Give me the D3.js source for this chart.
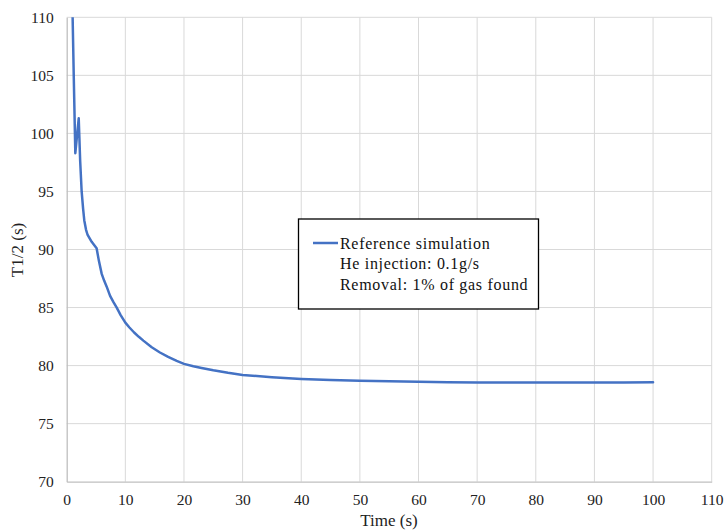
<!DOCTYPE html>
<html>
<head>
<meta charset="utf-8">
<script src="https://cdn.jsdelivr.net/npm/d3@7"></script>
<style>
  html, body { margin: 0; padding: 0; background: #fff; }
  svg { display: block; font-family: "Liberation Serif", "DejaVu Serif", serif; }
</style>
</head>
<body>
<svg id="chart" width="724" height="531"></svg>
<script>
// Data
const timeValues = [1.0, 1.2, 1.47, 2.05, 2.3, 2.55, 2.8, 3.0, 3.3, 3.57, 4.26, 5.1, 5.5, 5.97, 6.4, 6.82, 7.4, 8.0, 8.53, 9.2, 10, 10.7, 11.5, 12.3, 13.07, 14.5, 15.9, 17.3, 18.76, 20, 21.6, 23, 25, 27.5, 30, 35, 40, 45, 50, 55, 60, 65, 70, 75, 80, 85, 90, 95, 100];
const halfTimeValues = [110.3, 105, 98.3, 101.3, 97.6, 95.0, 93.5, 92.5, 91.7, 91.25, 90.66, 90.1, 89.0, 87.9, 87.3, 86.8, 86.0, 85.45, 85.0, 84.35, 83.7, 83.28, 82.85, 82.48, 82.15, 81.58, 81.13, 80.75, 80.4, 80.15, 79.95, 79.8, 79.6, 79.38, 79.2, 79.0, 78.85, 78.75, 78.7, 78.65, 78.6, 78.57, 78.55, 78.55, 78.55, 78.55, 78.55, 78.55, 78.56];
const xTicks = [0, 10, 20, 30, 40, 50, 60, 70, 80, 90, 100, 110];
const yTicks = [70, 75, 80, 85, 90, 95, 100, 105, 110];
const legendLines = ["Reference simulation", "He injection: 0.1g/s", "Removal: 1% of gas found"];
const xTitle = "Time (s)";
const yTitle = "T1/2 (s)";

const svg = d3.select("#chart");
const mLeft = 66.7, mRight = 711.7, mTop = 17.3, mBottom = 481.7;

const x = d3.scaleLinear().domain([0, 110]).range([mLeft, mRight]);
const y = d3.scaleLinear().domain([70, 110]).range([mBottom, mTop]);

// Gridlines
const grid = svg.append("g");
grid.selectAll("line.v").data(xTicks.slice(1)).join("line")
  .attr("x1", d => x(d)).attr("x2", d => x(d))
  .attr("y1", mTop).attr("y2", mBottom)
  .attr("stroke", "#d9d9d9").attr("stroke-width", 1);
grid.selectAll("line.h").data(yTicks.slice(1)).join("line")
  .attr("x1", mLeft).attr("x2", mRight)
  .attr("y1", d => y(d)).attr("y2", d => y(d))
  .attr("stroke", "#d9d9d9").attr("stroke-width", 1);

// Axes
const xAxis = d3.axisBottom(x).tickValues(xTicks).tickSize(0).tickPadding(12).tickFormat(d3.format("d"));
const gx = svg.append("g").attr("transform", `translate(0,${mBottom})`).call(xAxis);
gx.select(".domain").attr("stroke", "#bfbfbf").attr("stroke-width", 1.3);
gx.selectAll("text").attr("font-size", "15.5px").attr("fill", "#222")
  .attr("font-family", "Liberation Serif, serif");

const yAxis = d3.axisLeft(y).tickValues(yTicks).tickSize(0).tickPadding(13).tickFormat(d3.format("d"));
const gy = svg.append("g").attr("transform", `translate(${mLeft},0)`).call(yAxis);
gy.select(".domain").attr("stroke", "#bfbfbf").attr("stroke-width", 1.3);
gy.selectAll("text").attr("font-size", "15.5px").attr("fill", "#222")
  .attr("font-family", "Liberation Serif, serif");

// Axis titles
svg.append("text").attr("x", 389).attr("y", 526)
  .attr("text-anchor", "middle").attr("font-size", "17px").attr("fill", "#222")
  .text(xTitle);
svg.append("text")
  .attr("transform", `translate(23,250) rotate(-90)`)
  .attr("text-anchor", "middle").attr("font-size", "17px").attr("fill", "#222")
  .text(yTitle);

// Clip
svg.append("clipPath").attr("id", "plotclip").append("rect")
  .attr("x", mLeft).attr("y", mTop).attr("width", mRight - mLeft).attr("height", mBottom - mTop);

const data = timeValues.map((t, i) => ({ t, v: halfTimeValues[i] }));
const line = d3.line().x(d => x(d.t)).y(d => y(d.v)).curve(d3.curveLinear);
svg.append("path").datum(data)
  .attr("clip-path", "url(#plotclip)")
  .attr("fill", "none").attr("stroke", "#4472C4").attr("stroke-width", 2.5)
  .attr("stroke-linejoin", "round").attr("stroke-linecap", "round")
  .attr("d", line);

// Legend
const lg = svg.append("g");
lg.append("rect").attr("x", 298.5).attr("y", 219).attr("width", 240).attr("height", 90)
  .attr("fill", "#fff").attr("stroke", "#000").attr("stroke-width", 1.3);
lg.append("line").attr("x1", 313).attr("x2", 338).attr("y1", 243).attr("y2", 243)
  .attr("stroke", "#4472C4").attr("stroke-width", 2.5);
lg.selectAll("text").data(legendLines).join("text")
  .attr("x", 340).attr("y", (d, i) => 248.5 + i * 20.5)
  .attr("font-size", "16px").attr("letter-spacing", "0.7px").attr("fill", "#111")
  .text(d => d);
</script>
</body>
</html>
